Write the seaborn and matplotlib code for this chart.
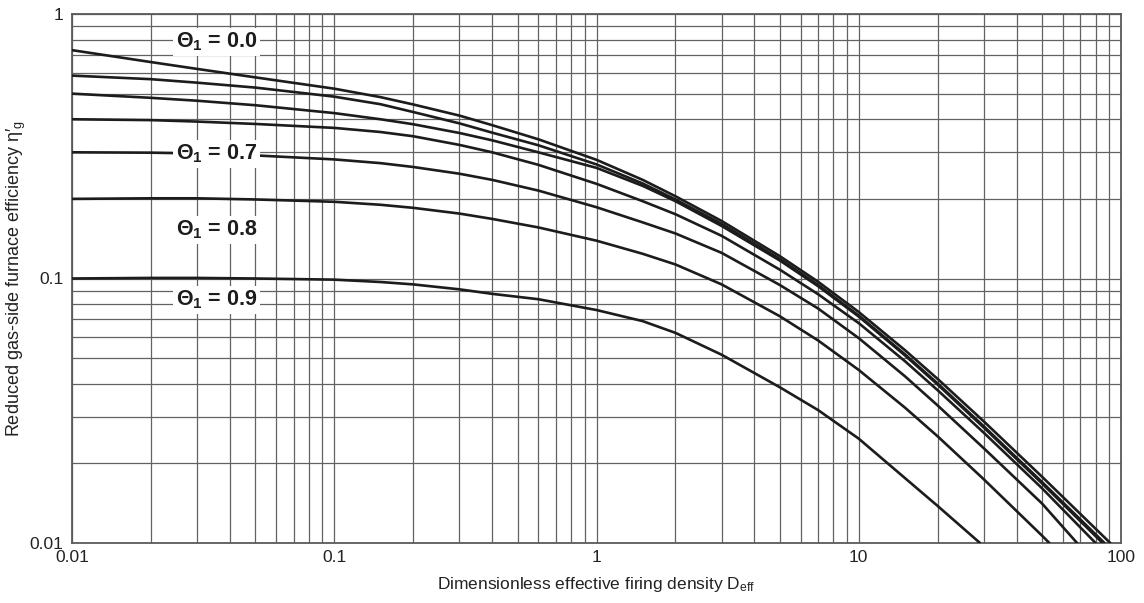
import numpy as np
import pandas as pd
import matplotlib
matplotlib.use("Agg")
import matplotlib.pyplot as plt
import matplotlib.ticker as mticker
import seaborn as sns

# ================= 数据 =================
d_eff = [0.01, 0.02, 0.03, 0.05, 0.1, 0.15, 0.2, 0.3, 0.4, 0.6,
         1, 1.5, 2, 3, 5, 7, 10, 15, 20, 30, 50]

theta_labels = ["0.0", "0.4", "0.5", "0.6", "0.7", "0.8", "0.9"]
eta_00 = [0.73, 0.658, 0.62, 0.576, 0.522, 0.485, 0.455, 0.413, 0.380, 0.336,
          0.281, 0.236, 0.2046, 0.165, 0.1215, 0.0972, 0.0747, 0.0536, 0.0417, 0.0288, 0.0178]
eta_04 = [0.585, 0.567, 0.55, 0.527, 0.487, 0.456, 0.426, 0.386, 0.356, 0.319,
          0.270, 0.2287, 0.199, 0.161, 0.1185, 0.0946, 0.0724, 0.0517, 0.0401, 0.0276, 0.0170]
eta_05 = [0.50, 0.482, 0.470, 0.452, 0.422, 0.40, 0.383, 0.355, 0.333, 0.300,
          0.262, 0.224, 0.196, 0.158, 0.117, 0.0935, 0.0718, 0.0512, 0.0397, 0.0273, 0.0168]
eta_06 = [0.40, 0.397, 0.392, 0.384, 0.371, 0.358, 0.345, 0.320, 0.300, 0.269,
          0.228, 0.196, 0.175, 0.145, 0.108, 0.0872, 0.0678, 0.0487, 0.0378, 0.0261, 0.0161]
eta_07 = [0.30, 0.299, 0.297, 0.292, 0.282, 0.273, 0.264, 0.249, 0.236, 0.215,
          0.186, 0.163, 0.148, 0.125, 0.0945, 0.077, 0.0595, 0.0427, 0.0331, 0.0228, 0.0141]
eta_08 = [0.200, 0.201, 0.201, 0.199, 0.195, 0.190, 0.185, 0.176, 0.168, 0.156,
          0.139, 0.124, 0.113, 0.095, 0.072, 0.0583, 0.0451, 0.0325, 0.0253, 0.0174, 0.01066]
eta_09 = [0.100, 0.1005, 0.1005, 0.100, 0.099, 0.097, 0.095, 0.091, 0.0875, 0.0835,
          0.0760, 0.0690, 0.0623, 0.0515, 0.0388, 0.0318, 0.0248, 0.0176, 0.0138]
# D_eff where each curve runs out at the bottom of the chart (eta = 0.01)
d_end = [91, 86.5, 85, 80, 68, 53.3, 29]
eta_end = 0.01

# curve annotations
note_text = ["0.0", "0.7", "0.8", "0.9"]
note_x = [0.0355, 0.0355, 0.0355, 0.0355]
note_y = [0.785, 0.296, 0.153, 0.0830]

# ================= 样式 =================
sns.set_theme(style="white")
plt.rcParams["font.family"] = ["Liberation Sans", "DejaVu Sans"]
plt.rcParams["mathtext.fontset"] = "custom"
plt.rcParams["mathtext.rm"] = "Liberation Sans"
plt.rcParams["mathtext.it"] = "Liberation Sans:italic"
plt.rcParams["mathtext.bf"] = "Liberation Sans:bold"

series = [eta_00, eta_04, eta_05, eta_06, eta_07, eta_08, eta_09]
rows = []
for lab, vals, xe in zip(theta_labels, series, d_end):
    xs = d_eff[:len(vals)] + [xe]
    for x, y in zip(xs, vals + [eta_end]):
        rows.append({"theta": lab, "D_eff": x, "eta": y})
df = pd.DataFrame(rows)

fig = plt.figure(figsize=(11.44, 6.03), dpi=100)
ax = fig.add_axes([72 / 1144, 1 - 543 / 603, (1121 - 72) / 1144, (543 - 14) / 603])

sns.lineplot(data=df, x="D_eff", y="eta", units="theta", estimator=None,
             sort=False, color="#1c1c1c", lw=1.9, ax=ax, zorder=3)

ax.set_xscale("log")
ax.set_yscale("log")
ax.set_xlim(0.01, 100)
ax.set_ylim(0.01, 1)

ax.set_xticks([0.01, 0.1, 1, 10, 100], labels=["0.01", "0.1", "1", "10", "100"])
ax.set_yticks([0.01, 0.1, 1], labels=["0.01", "0.1", "1"])
for axis in (ax.xaxis, ax.yaxis):
    axis.set_minor_locator(mticker.LogLocator(base=10, subs=np.arange(2, 10)))
    axis.set_minor_formatter(mticker.NullFormatter())
ax.tick_params(which="both", length=0, labelsize=12.5, colors="#222222")
ax.tick_params(axis="x", pad=5)
ax.tick_params(axis="y", pad=6)

ax.grid(True, which="both", color="#626262", lw=0.9)
ax.set_axisbelow(True)
for sp in ax.spines.values():
    sp.set_color("#5a5a5a")
    sp.set_linewidth(1.3)

ax.set_xlabel("Dimensionless effective firing density D$_\\mathrm{eff}$",
              fontsize=12.5, color="#222222", labelpad=7)
ax.set_ylabel("Reduced gas-side furnace efficiency η′$_\\mathrm{g}$",
              fontsize=13, color="#222222", labelpad=1)

for t, x, y in zip(note_text, note_x, note_y):
    ax.text(x, y, "Θ$_\\mathbf{1}$ = " + t, fontsize=15.5, fontweight="bold",
            ha="center", va="center", color="#1c1c1c", zorder=5,
            bbox=dict(boxstyle="square,pad=0.12", fc="white", ec="none"))

fig.savefig("out.png", dpi=100)
